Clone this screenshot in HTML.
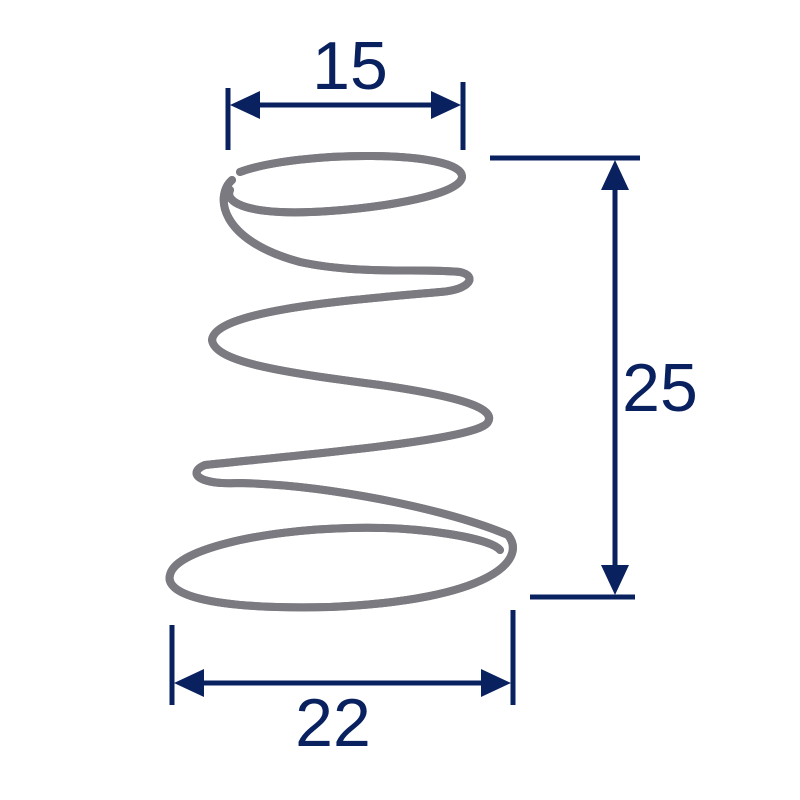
<!DOCTYPE html>
<html><head><style>html,body{margin:0;padding:0;background:#fff;}svg{display:block}</style></head>
<body>
<svg width="800" height="800" viewBox="0 0 800 800" xmlns="http://www.w3.org/2000/svg">
<rect width="800" height="800" fill="#fff"/>
<g fill="none" stroke-linecap="round" stroke-linejoin="round">
<path id="s" d="M240,172 C300,150 460,150 462,176 C464,200 330,215 280,212 C240,210 225,200 230,190 M232,180 C215,195 218,240 300,262 C360,275 420,268 460,272 C478,276 470,290 440,292 C350,300 215,310 212,340 C215,362 280,372 380,385 C470,398 495,410 488,422 C480,440 300,455 205,465 C188,472 195,485 240,483 C330,485 450,510 508,535 C528,560 490,600 330,607 C200,610 165,592 170,575 C175,550 260,530 350,528 C420,526 490,538 500,550"
 stroke="#7a7a80" stroke-width="8"/>
<use href="#s" stroke="#cfd0d4" stroke-width="2.5"/>
</g>
<g fill="#0a2160" stroke="#0a2160">
<line x1="228" y1="88" x2="228" y2="150" stroke-width="5"/>
<line x1="463" y1="82" x2="463" y2="150" stroke-width="5"/>
<line x1="250" y1="105" x2="440" y2="105" stroke-width="5"/>
<polygon points="230,105 260,91 260,119" stroke="none"/>
<polygon points="461,105 431,91 431,119" stroke="none"/>
<line x1="490" y1="158" x2="640" y2="158" stroke-width="5"/>
<line x1="530" y1="597" x2="635" y2="597" stroke-width="5"/>
<line x1="615" y1="180" x2="615" y2="575" stroke-width="5"/>
<polygon points="615,160 601,190 629,190" stroke="none"/>
<polygon points="615,595 601,565 629,565" stroke="none"/>
<line x1="172" y1="625" x2="172" y2="705" stroke-width="5"/>
<line x1="513" y1="610" x2="513" y2="705" stroke-width="5"/>
<line x1="195" y1="683" x2="490" y2="683" stroke-width="5"/>
<polygon points="174,683 204,669 204,697" stroke="none"/>
<polygon points="511,683 481,669 481,697" stroke="none"/>
</g>
<g fill="#0a2160" font-family="Liberation Sans, sans-serif" font-size="68" text-anchor="middle">
<text x="350" y="89">15</text>
<text x="660" y="411">25</text>
<text x="333" y="746">22</text>
</g>
</svg>
</body></html>
